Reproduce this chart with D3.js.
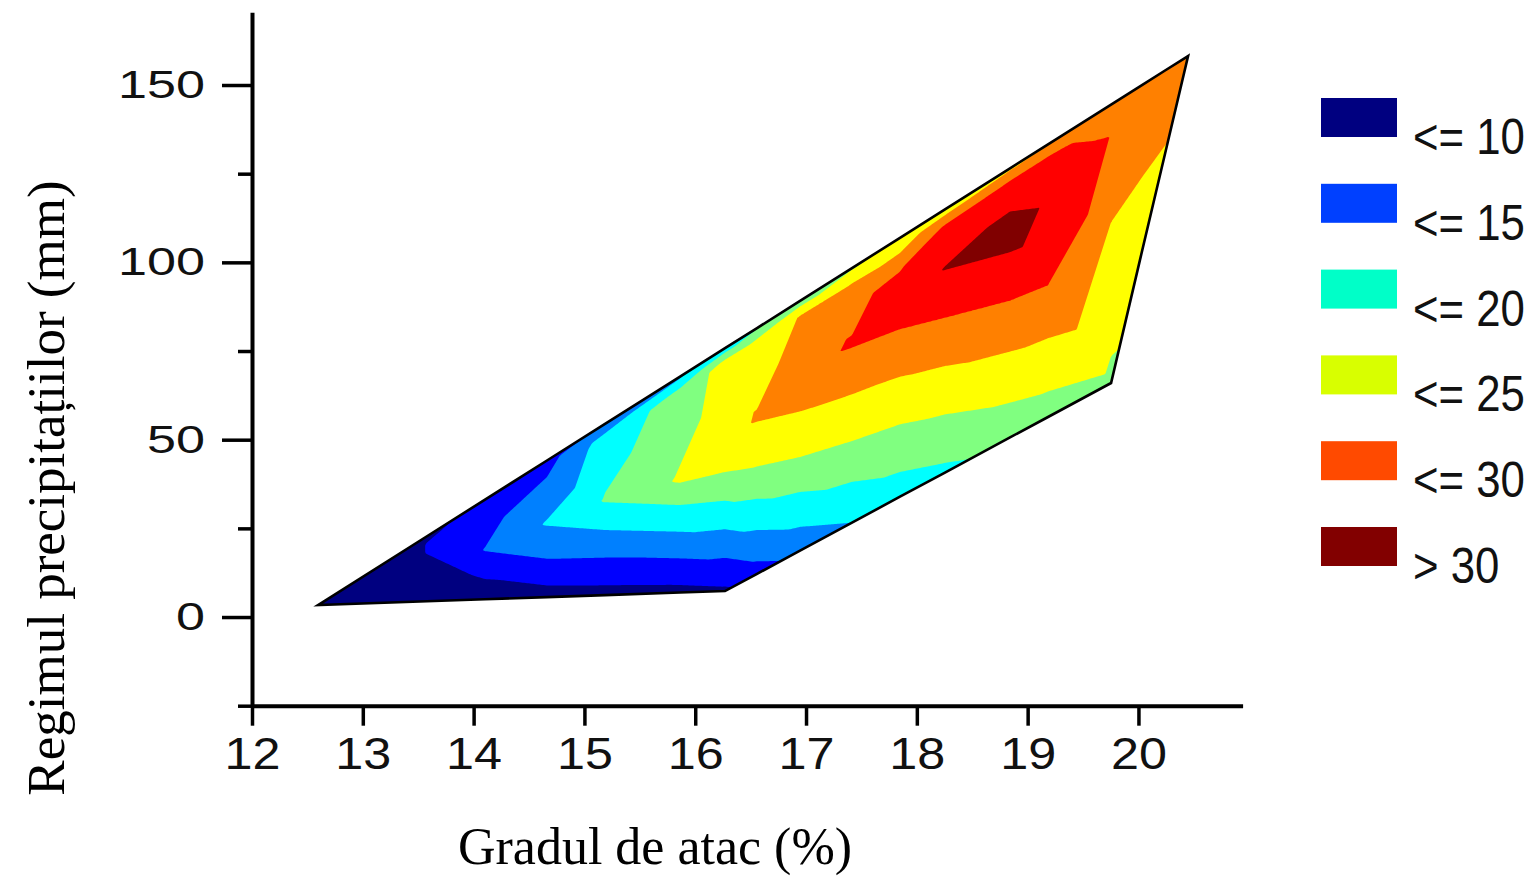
<!DOCTYPE html>
<html>
<head>
<meta charset="utf-8">
<script src="https://cdn.jsdelivr.net/npm/d3@7"></script>
<style>
  body { margin: 0; background: #ffffff; }
  svg { display: block; }
</style>
</head>
<body>
<svg id="chart" width="1528" height="876"></svg>
<script>
// Sampling columns: attack degree (%)
const attackCols = [12.596, 13.579, 14.103, 14.662, 15.186, 15.863, 16.269, 16.558, 16.946,
                    17.415, 17.848, 18.254, 18.841, 19.184, 19.753, 20.014, 20.240, 20.448];

// Upper rim of the sampled region: precipitation (mm) and value
const edgeMm  = [3.38, 22.78, 33.10, 44.13, 54.44, 67.78, 75.79, 81.48, 89.12,
                 98.37, 106.92, 114.95, 126.51, 133.26, 144.47, 149.63, 154.09, 158.17];
const edgeVal = [4, 9.6, 10.5, 11.5, 13, 14.5, 16, 17.3, 18.5,
                 19.7, 20.2, 21, 22, 22.4, 23, 23.3, 23.6, 24];

// Just inside the upper rim
const cliffMm  = [3.38, 20.58, 29.04, 39.47, 50.47, 63.44, 71.90, 77.25, 84.87,
                  93.61, 98.96, 110.24, 121.80, 129.41, 140.69, 146.90, 151.97, 158.17];
const cliffVal = [4, 10.1, 11.3, 12.5, 16, 18.5, 20.8, 21, 22.6,
                  22.8, 24.5, 25.3, 26, 25.3, 24.5, 24, 23.9, 24];

// Crest line
const ridgeMm  = [3.38, 18.33, 18.89, 26.50, 32.99, 38.63, 47.93, 56.11, 65.69,
                  77.54, 88.53, 98.40, 109.68, 117.01, 135.90, 142.95, 148.59, 158.17];
const ridgeVal = [4, 10.1, 12.6, 15.2, 17.7, 20.3, 21.7, 22.7, 24,
                  25.3, 27.8, 30.2, 32.5, 29.3, 24.9, 24.3, 24, 24];

// Lower slope
const midMm  = [3.38, 11.84, 11.84, 16.07, 24.53, 31.58, 40.88, 41.45, 45.11,
                49.62, 81.20, 84.44, 89.26, 93.61, 111.37, 123.21, 138.72, 158.17];
const midVal = [4, 9, 10.3, 12.4, 15, 17.5, 20, 19.8, 20,
                20, 25, 25, 25, 25, 22.5, 22.5, 23, 24];

// Lower rim of the sampled region
const baseMm  = [3.38, 4.44, 5.00, 5.61, 6.17, 6.91, 7.33, 12.18, 18.72,
                 26.62, 33.92, 40.74, 50.64, 56.40, 65.98, 100.71, 130.63, 158.17];
const baseVal = [4, 7, 8.5, 8.9, 9.1, 9.3, 9.6, 11.5, 13.3,
                 15, 16.2, 17, 18.3, 18.8, 19.5, 21.3, 22.3, 24];

// Contour levels and fill colours (one more colour than levels)
const levels = [10, 12.5, 15, 17.5, 20, 22.5, 25, 30];
const bandColors = ["#000080", "#0000ff", "#0080ff", "#00ffff", "#80ff80",
                    "#ffff00", "#ff8000", "#ff0000", "#800000"];

// Legend
const legendLabels = ["<= 10", "<= 15", "<= 20", "<= 25", "<= 30", "> 30"];
const legendColors = ["#000080", "#0040ff", "#00ffc8", "#d8ff00", "#ff4a00", "#820000"];

// Axis ticks
const xTicks = [12, 13, 14, 15, 16, 17, 18, 19, 20];
const yTicks = [0, 50, 100, 150];
const yMinorTicks = [-25, 25, 75, 125];

const svg = d3.select("#chart");

const x = d3.scaleLinear().domain([12, 20.94]).range([252, 1242.6]);
const y = d3.scaleLinear().domain([-25, 170.5]).range([705.7, 12.3]);

// ---- Mesh of sample rows (top to bottom) ----
const rowsMm = [edgeMm, cliffMm, ridgeMm, midMm, baseMm];
const rowsVal = [edgeVal, cliffVal, ridgeVal, midVal, baseVal];
const nc = attackCols.length, nr = rowsMm.length;
const NX = [], NY = [], NZ = [];
for (let r = 0; r < nr; r++) {
  for (let c = 0; c < nc; c++) {
    NX.push(x(attackCols[c]));
    NY.push(y(rowsMm[r][c]));
    NZ.push(rowsVal[r][c]);
  }
}
const id = (r, c) => r * nc + c;
const dist = (a, b) => Math.hypot(NX[a] - NX[b], NY[a] - NY[b]);
const tris = [];
for (let r = 0; r < nr - 1; r++) {
  for (let c = 0; c < nc - 1; c++) {
    const p00 = id(r, c), p01 = id(r, c + 1), p10 = id(r + 1, c), p11 = id(r + 1, c + 1);
    if (dist(p00, p11) <= dist(p01, p10)) tris.push([p00, p01, p11], [p00, p11, p10]);
    else tris.push([p00, p01, p10], [p01, p11, p10]);
  }
}
// Outline: upper rim left to right, then lower rim back
const rim = d3.range(nc).map(c => id(0, c)).concat(d3.range(nc - 1, -1, -1).map(c => id(nr - 1, c)));

// ---- Rasterise the piecewise-linear surface ----
const step = 1.5;
const gx0 = Math.floor(d3.min(NX)) - 6;
const gy0 = Math.floor(d3.min(NY)) - 6;
const nx = Math.ceil((d3.max(NX) + 6 - gx0) / step);
const ny = Math.ceil((d3.max(NY) + 6 - gy0) / step);
const field = new Float64Array(nx * ny).fill(NaN);

for (const [a, b, c] of tris) {
  const det = (NY[b] - NY[c]) * (NX[a] - NX[c]) + (NX[c] - NX[b]) * (NY[a] - NY[c]);
  if (Math.abs(det) < 1e-6) continue;
  const i0 = Math.max(0, Math.floor((Math.min(NX[a], NX[b], NX[c]) - gx0) / step - 0.5));
  const i1 = Math.min(nx - 1, Math.ceil((Math.max(NX[a], NX[b], NX[c]) - gx0) / step - 0.5));
  const j0 = Math.max(0, Math.floor((Math.min(NY[a], NY[b], NY[c]) - gy0) / step - 0.5));
  const j1 = Math.min(ny - 1, Math.ceil((Math.max(NY[a], NY[b], NY[c]) - gy0) / step - 0.5));
  for (let j = j0; j <= j1; j++) {
    const Y = gy0 + (j + 0.5) * step;
    for (let i = i0; i <= i1; i++) {
      const X = gx0 + (i + 0.5) * step;
      const l1 = ((NY[b] - NY[c]) * (X - NX[c]) + (NX[c] - NX[b]) * (Y - NY[c])) / det;
      const l2 = ((NY[c] - NY[a]) * (X - NX[c]) + (NX[a] - NX[c]) * (Y - NY[c])) / det;
      const l3 = 1 - l1 - l2;
      if (l1 >= -1e-7 && l2 >= -1e-7 && l3 >= -1e-7) {
        field[j * nx + i] = l1 * NZ[a] + l2 * NZ[b] + l3 * NZ[c];
      }
    }
  }
}

// Outside the mesh, carry the nearest rim value outward (hidden by the clip)
for (let j = 0; j < ny; j++) {
  const Y = gy0 + (j + 0.5) * step;
  for (let i = 0; i < nx; i++) {
    const k = j * nx + i;
    if (!isNaN(field[k])) continue;
    const X = gx0 + (i + 0.5) * step;
    let best = Infinity, val = 0;
    for (let m = 0; m < rim.length; m++) {
      const a = rim[m], b = rim[(m + 1) % rim.length];
      const dx = NX[b] - NX[a], dy = NY[b] - NY[a];
      const len2 = dx * dx + dy * dy;
      let t = len2 > 0 ? ((X - NX[a]) * dx + (Y - NY[a]) * dy) / len2 : 0;
      t = Math.max(0, Math.min(1, t));
      const qx = NX[a] + t * dx - X, qy = NY[a] + t * dy - Y;
      const d2 = qx * qx + qy * qy;
      if (d2 < best) { best = d2; val = NZ[a] + t * (NZ[b] - NZ[a]); }
    }
    field[k] = val;
  }
}

const bands = d3.contours().size([nx, ny]).thresholds(levels)(Array.from(field));
const gridToPx = d3.geoTransform({
  point(gx, gy) { this.stream.point(gx0 + gx * step, gy0 + gy * step); }
});
const bandPath = d3.geoPath(gridToPx);

const rimD = "M" + rim.map(i => NX[i] + "," + NY[i]).join("L") + "Z";

svg.append("defs").append("clipPath").attr("id", "rimClip")
  .append("path").attr("d", rimD);

const plot = svg.append("g").attr("clip-path", "url(#rimClip)");
plot.append("path").attr("d", rimD).attr("fill", bandColors[0]);
plot.selectAll("path.band")
  .data(bands)
  .join("path")
  .attr("class", "band")
  .attr("d", bandPath)
  .attr("fill", (d, i) => bandColors[i + 1]);

svg.append("path")
  .attr("d", rimD)
  .attr("fill", "none")
  .attr("stroke", "#000")
  .attr("stroke-width", 2.6)
  .attr("stroke-linejoin", "miter");

// ---- Axes ----
const sans = "'Liberation Sans', Arial, sans-serif";
const serif = "'Liberation Serif', 'Times New Roman', serif";

const xAxis = svg.append("g")
  .attr("transform", `translate(0,${y(-25)})`)
  .call(d3.axisBottom(x).tickValues(xTicks).tickSize(20).tickSizeOuter(0).tickPadding(12));
xAxis.select(".domain").attr("stroke", "#000").attr("stroke-width", 4);
xAxis.selectAll(".tick line").attr("stroke", "#000").attr("stroke-width", 3.5);
xAxis.selectAll(".tick text")
  .attr("fill", "#111")
  .style("font-family", sans)
  .style("font-size", "44px")
  .attr("textLength", d => String(d).length * 28)
  .attr("lengthAdjust", "spacingAndGlyphs");

const yAxis = svg.append("g")
  .attr("transform", `translate(${x(12)},0)`)
  .call(d3.axisLeft(y).tickValues(yTicks).tickSize(30).tickSizeOuter(0).tickPadding(17));
yAxis.select(".domain").attr("stroke", "#000").attr("stroke-width", 4);
yAxis.selectAll(".tick line").attr("stroke", "#000").attr("stroke-width", 3.5);
yAxis.selectAll(".tick text")
  .attr("fill", "#111")
  .style("font-family", sans)
  .style("font-size", "39px")
  .attr("textLength", d => String(d).length * 29)
  .attr("lengthAdjust", "spacingAndGlyphs");

const yMinor = svg.append("g")
  .attr("transform", `translate(${x(12)},0)`)
  .call(d3.axisLeft(y).tickValues(yMinorTicks).tickSize(14).tickSizeOuter(0).tickFormat(""));
yMinor.select(".domain").remove();
yMinor.selectAll(".tick line").attr("stroke", "#000").attr("stroke-width", 3.5);

// Axis titles
svg.append("text")
  .attr("x", 655).attr("y", 864)
  .attr("text-anchor", "middle")
  .style("font-family", serif)
  .style("font-size", "52px")
  .attr("fill", "#000")
  .text("Gradul de atac (%)");

svg.append("text")
  .attr("transform", "translate(64,488) rotate(-90)")
  .attr("text-anchor", "middle")
  .style("font-family", serif)
  .style("font-size", "53px")
  .attr("fill", "#000")
  .text("Regimul precipitațiilor (mm)");

// ---- Legend ----
const legendRows = svg.append("g").selectAll("g")
  .data(legendLabels)
  .join("g")
  .attr("transform", (d, i) => `translate(1321,${98 + i * 85.8})`);
legendRows.append("rect")
  .attr("width", 76).attr("height", 39)
  .attr("fill", (d, i) => legendColors[i]);
legendRows.append("text")
  .attr("transform", "translate(92,56) scale(0.875,1)")
  .style("font-family", sans)
  .style("font-size", "50px")
  .attr("fill", "#111")
  .text(d => d);
</script>
</body>
</html>
